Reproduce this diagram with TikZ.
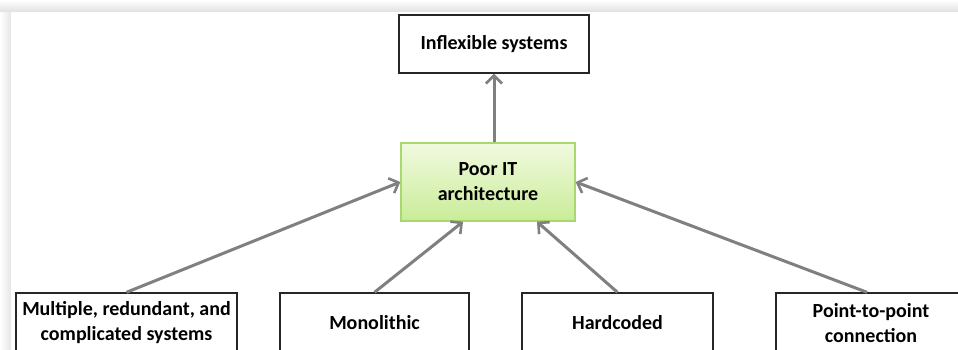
\documentclass[tikz,border=0pt]{standalone}
\usepackage{fontspec}
\setmainfont{Carlito}
\usetikzlibrary{arrows.meta,calc}
\definecolor{arrowgray}{HTML}{808080}
\definecolor{greenborder}{HTML}{A8D86E}
\definecolor{greentop}{HTML}{F0FADF}
\definecolor{greenbot}{HTML}{C9EC98}
\tikzset{
  box/.style={draw=black!85, line width=1.4pt, fill=white, align=center,
    inner sep=0pt, font=\bfseries\fontsize{20}{25}\selectfont},
  greenbox/.style={box, draw=greenborder, top color=greentop, bottom color=greenbot},
  conn/.style={draw=arrowgray, line width=3pt, -{Straight Barb[length=8pt,width=16pt,line width=2.6pt]}}
}
\begin{document}
\begin{tikzpicture}[x=1pt,y=-1pt]
\useasboundingbox (0,0) rectangle (958,349);
\clip (0,0) rectangle (958,349);
% background and panel shadow
\fill[white] (0,0) rectangle (958,349);
\shade[top color=white, bottom color=black!12] (0,0) rectangle (958,12);
\shade[left color=white, right color=black!10] (0,12) rectangle (11,349);
\fill[white] (11,12) rectangle (958,349);
% nodes
\node[box, minimum width=190pt, minimum height=58pt] (t) at (494,44) {Inflexible systems};
\node[greenbox, minimum width=174pt, minimum height=78pt] (c) at (488,182) {Poor IT\\architecture};
\node[box, minimum width=221pt, minimum height=60pt] (b1) at (126.5,323) {Multiple, redundant, and\\complicated systems};
\node[box, minimum width=189pt, minimum height=60pt] (b2) at (374.5,323) {Monolithic};
\node[box, minimum width=191pt, minimum height=60pt] (b3) at (617.5,323) {Hardcoded};
\node[box, minimum width=190pt, minimum height=60pt] (b4) at (871,323) {Point-to-point\\connection};
\coordinate (c2) at ($(c.south)+(-25,0)$);
\coordinate (c3) at ($(c.south)+(49,0)$);
% connectors
\draw[conn] (c.north -| t.south) -- (t.south);
\draw[conn] (b1.north) -- (c.west);
\draw[conn] (b2.north) -- (c2);
\draw[conn] (b3.north) -- (c3);
\draw[conn] ($(b4.north)+(-4,0)$) -- (c.east);
\end{tikzpicture}
\end{document}
